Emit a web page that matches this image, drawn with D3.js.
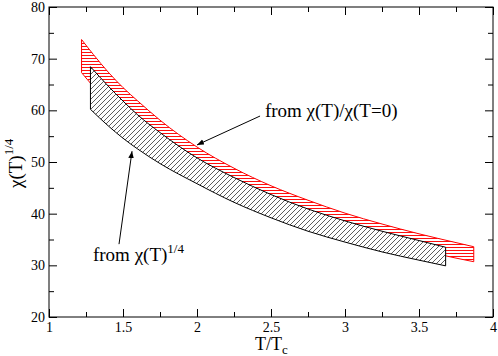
<!DOCTYPE html>
<html lang="en">
<head>
<meta charset="utf-8">
<title>chi(T)^1/4 bands</title>
<script src="https://cdn.jsdelivr.net/npm/d3@7"></script>
<style>
  body { margin: 0; background: #fff; }
  svg { display: block; }
  .tick text { font-size: 14px; fill: #000; }
  .tick line { stroke: #000; }
</style>
</head>
<body>
<script>
// band from chi(T)/chi(T=0) (red) and band from chi(T)^1/4 (black)
var redT     = [1.22, 1.3, 1.4, 1.5, 1.6, 1.75, 2.0, 2.25, 2.5, 2.75, 3.0, 3.25, 3.5, 3.75, 3.87];
var redUpper = [73.7, 70.8, 67.4, 64.4, 61.8, 58.1, 52.9, 48.8, 45.4, 42.6, 40.1, 38.0, 36.1, 34.4, 33.6];
var redLower = [67.3, 64.6, 61.5, 58.8, 56.4, 53.0, 48.2, 44.6, 41.5, 38.9, 36.6, 34.7, 33.0, 31.4, 30.7];

var blackT     = [1.28, 1.4, 1.5, 1.6, 1.75, 2.0, 2.25, 2.5, 2.75, 3.0, 3.25, 3.5, 3.68];
var blackUpper = [68.45, 64.7, 61.8, 59.1, 55.7, 50.8, 47.0, 43.7, 40.9, 38.6, 36.6, 34.8, 33.5];
var blackLower = [60.2, 57.0, 54.6, 52.5, 49.7, 45.8, 42.2, 39.2, 36.6, 34.5, 32.6, 31.0, 29.9];

var xMajor = [1, 1.5, 2, 2.5, 3, 3.5, 4];
var xMinor = [1.25, 1.75, 2.25, 2.75, 3.25, 3.75];
var yMajor = [20, 30, 40, 50, 60, 70, 80];
var yMinor = [25, 35, 45, 55, 65, 75];

var w = 498, h = 356;
var padL = 49, padR = 493, padT = 7, padB = 317;
var serif = "'Liberation Serif', 'Times New Roman', Times, serif";

var x = d3.scaleLinear().domain([1, 4]).range([padL, padR]);
var y = d3.scaleLinear().domain([20, 80]).range([padB, padT]);

var svg = d3.select("body").append("svg")
  .attr("width", w)
  .attr("height", h)
  .attr("font-family", serif);

// hatch patterns
var defs = svg.append("defs");
defs.append("pattern")
  .attr("id", "hatchRed")
  .attr("patternUnits", "userSpaceOnUse")
  .attr("width", 6).attr("height", 3)
  .append("line")
  .attr("x1", 0).attr("x2", 6).attr("y1", 1.5).attr("y2", 1.5)
  .attr("stroke", "#ff1010").attr("stroke-width", 1);

var pb = defs.append("pattern")
  .attr("id", "hatchBlack")
  .attr("patternUnits", "userSpaceOnUse")
  .attr("width", 5).attr("height", 5);
pb.append("rect").attr("width", 5).attr("height", 5).attr("fill", "#fff");
pb.append("path")
  .attr("d", "M-1,1 l2,-2 M0,5 l5,-5 M4,6 l2,-2")
  .attr("stroke", "#333").attr("stroke-width", 0.8);

function band(ts, up, lo) {
  var rows = ts.map(function(t, i) { return { t: t, hi: up[i], lo: lo[i] }; });
  return d3.area()
    .x(function(d) { return x(d.t); })
    .y0(function(d) { return y(d.lo); })
    .y1(function(d) { return y(d.hi); })
    .curve(d3.curveMonotoneX)(rows);
}

// red band
svg.append("path")
  .attr("d", band(redT, redUpper, redLower))
  .attr("fill", "#fff");
svg.append("path")
  .attr("d", band(redT, redUpper, redLower))
  .attr("fill", "url(#hatchRed)")
  .attr("stroke", "#ff0000")
  .attr("stroke-width", 1);

// black band on top
svg.append("path")
  .attr("d", band(blackT, blackUpper, blackLower))
  .attr("fill", "url(#hatchBlack)")
  .attr("stroke", "#000")
  .attr("stroke-width", 1);

// axes, ticks pointing inward
function addAxis(axis, tr, vals, size, labels) {
  var g = svg.append("g")
    .attr("transform", tr)
    .call(axis.tickValues(vals).tickSize(-size).tickFormat(labels ? d3.format("") : ""));
  g.attr("font-family", serif).attr("font-size", 14);
  g.select(".domain").remove();
  return g;
}
addAxis(d3.axisBottom(x).tickPadding(5), "translate(0," + padB + ")", xMajor, 8, true);
addAxis(d3.axisBottom(x), "translate(0," + padB + ")", xMinor, 5, false);
addAxis(d3.axisTop(x), "translate(0," + padT + ")", xMajor, 8, false);
addAxis(d3.axisTop(x), "translate(0," + padT + ")", xMinor, 5, false);
addAxis(d3.axisLeft(y).tickPadding(4), "translate(" + padL + ",0)", yMajor, 8, true);
addAxis(d3.axisLeft(y), "translate(" + padL + ",0)", yMinor, 5, false);
addAxis(d3.axisRight(y), "translate(" + padR + ",0)", yMajor, 8, false);
addAxis(d3.axisRight(y), "translate(" + padR + ",0)", yMinor, 5, false);

// frame
svg.append("rect")
  .attr("x", padL).attr("y", padT)
  .attr("width", padR - padL).attr("height", padB - padT)
  .attr("fill", "none").attr("stroke", "#000").attr("stroke-width", 1);

// axis titles
svg.append("text")
  .attr("x", 255).attr("y", 350)
  .style("font-size", "18px")
  .text("T/T")
  .append("tspan").attr("dy", 4).style("font-size", "13px").text("c");

var yl = svg.append("text")
  .attr("transform", "translate(22,188) rotate(-90)")
  .style("font-size", "19px")
  .text("\u03c7(T)");
yl.append("tspan").attr("dy", -9).style("font-size", "13px").text("1/4");

// annotations
var notes = [
  { t: 2.459, v: 58.8, text: "from \u03c7(T)/\u03c7(T=0)", sup: "" },
  { t: 1.297, v: 30.8, text: "from \u03c7(T)", sup: "1/4" }
];
var arrows = [
  { t0: 2.426, v0: 58.9, t1: 2.0, v1: 53.3 },
  { t0: 1.473, v0: 34.1, t1: 1.561, v1: 52.1 }
];

defs.append("marker")
  .attr("id", "head")
  .attr("viewBox", "0 0 10 10")
  .attr("refX", 10).attr("refY", 5)
  .attr("markerWidth", 7).attr("markerHeight", 7)
  .attr("markerUnits", "userSpaceOnUse")
  .attr("orient", "auto")
  .append("path").attr("d", "M0,1 L10,5 L0,9 Z").attr("fill", "#000");

svg.selectAll(".arrow")
  .data(arrows)
  .enter()
  .append("line")
  .attr("class", "arrow")
  .attr("x1", function(d) { return x(d.t0); })
  .attr("y1", function(d) { return y(d.v0); })
  .attr("x2", function(d) { return x(d.t1); })
  .attr("y2", function(d) { return y(d.v1); })
  .attr("stroke", "#000")
  .attr("stroke-width", 1)
  .attr("marker-end", "url(#head)");

svg.selectAll(".note")
  .data(notes)
  .enter()
  .append("text")
  .attr("class", "note")
  .attr("x", function(d) { return x(d.t); })
  .attr("y", function(d) { return y(d.v); })
  .style("font-size", "19px")
  .text(function(d) { return d.text; })
  .append("tspan")
  .attr("dy", -8)
  .style("font-size", "13px")
  .text(function(d) { return d.sup; });
</script>
</body>
</html>
